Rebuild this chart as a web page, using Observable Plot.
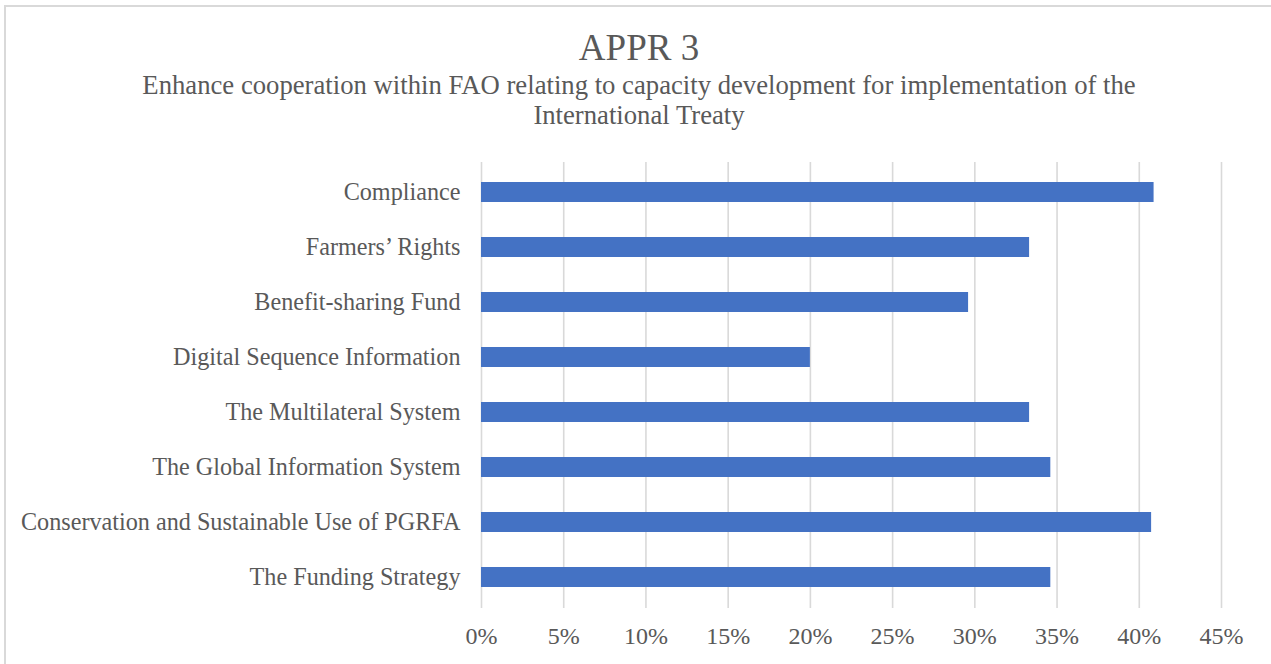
<!DOCTYPE html>
<html>
<head>
<meta charset="utf-8">
<script src="https://cdn.jsdelivr.net/npm/d3@7"></script>
<script src="https://cdn.jsdelivr.net/npm/@observablehq/plot@0.6"></script>
<style>
  html, body { margin: 0; padding: 0; background: #fff; }
  body { width: 1271px; height: 664px; position: relative; overflow: hidden; font-family: "Liberation Serif", "Times New Roman", serif; color: #595959; }
  #frame { position: absolute; left: 4px; top: 5px; width: 1400px; height: 800px; border-top: 2px solid #d9d9d9; border-left: 2px solid #d9d9d9; box-sizing: border-box; }
  #head { position: absolute; left: 0; top: 0; width: 1278px; height: 150px; text-align: center; }
  #title { position: absolute; left: 0; width: 1278px; top: 27.5px; font-size: 37px; line-height: 40px; white-space: nowrap; }
  #subtitle { position: absolute; left: 0; width: 1278px; top: 70px; font-size: 26.7px; line-height: 30px; white-space: nowrap; }
  #chart { position: absolute; left: 0; top: 150px; }
</style>
</head>
<body>
<div id="frame"></div>
<div id="head">
  <div id="title">APPR 3</div>
  <div id="subtitle">Enhance cooperation within FAO relating to capacity development for implementation of the<br>International Treaty</div>
</div>
<div id="chart"></div>
<script>
const categories = [
  "Compliance",
  "Farmers’ Rights",
  "Benefit-sharing Fund",
  "Digital Sequence Information",
  "The Multilateral System",
  "The Global Information System",
  "Conservation and Sustainable Use of PGRFA",
  "The Funding Strategy"
];
const values = [0.409, 0.3333, 0.2962, 0.20, 0.3333, 0.3462, 0.4075, 0.3462];
const tickValues = [0, 0.05, 0.10, 0.15, 0.20, 0.25, 0.30, 0.35, 0.40, 0.45];
const tickLabels = ["0%", "5%", "10%", "15%", "20%", "25%", "30%", "35%", "40%", "45%"];

const data = categories.map((c, i) => ({category: c, value: values[i]}));
const fmt = (d) => tickLabels[tickValues.findIndex(t => Math.abs(t - d) < 1e-9)];

const chart = Plot.plot({
  width: 1271,
  height: 514,
  marginTop: 12,
  marginBottom: 56,
  marginLeft: 481,
  marginRight: 50,
  style: {fontFamily: '"Liberation Serif", "Times New Roman", serif', color: "#595959", background: "transparent", overflow: "visible"},
  x: {domain: [0, 0.45], ticks: tickValues, tickFormat: fmt, label: null},
  y: {domain: categories, paddingInner: 0.63, paddingOuter: 0.315, label: null},
  marks: [
    Plot.gridX(tickValues, {stroke: "#d9d9d9", strokeOpacity: 1, strokeWidth: 1.6}),
    Plot.barX(data, {x: "value", y: "category", fill: "#4472C4"}),
    Plot.axisX({ticks: tickValues, tickSize: 0, tickPadding: 18, fontSize: 24, tickFormat: fmt, label: null}),
    Plot.axisY({tickSize: 0, tickPadding: 21, fontSize: 24.2, label: null})
  ]
});
document.getElementById("chart").appendChild(chart);
</script>
</body>
</html>
